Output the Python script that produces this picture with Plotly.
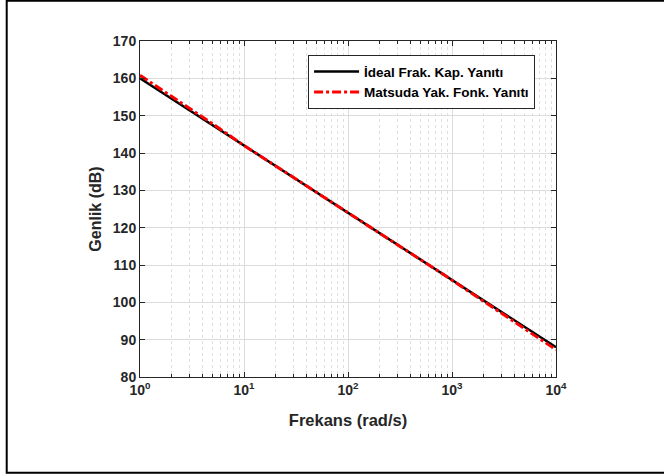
import plotly.graph_objects as go

# Frequencies (rad/s)
freq = [1, 2, 3, 5, 7, 10, 20, 30, 50, 70, 100, 200, 300, 500, 700,
        1000, 2000, 3000, 5000, 7000, 10000]
# Ideal fractional capacitor magnitude (dB)
ideal_db = [160.0, 154.58, 151.41, 147.42, 144.79, 142.0, 136.58, 133.41,
            129.42, 126.79, 124.0, 118.58, 115.41, 111.42, 108.79,
            106.0, 100.58, 97.41, 93.42, 90.79, 88.0]
# Matsuda approximation magnitude (dB)
matsuda_db = [160.8, 155.3, 152.0, 147.8, 145.0, 142.0, 136.6, 133.4,
              129.4, 126.8, 124.0, 118.6, 115.4, 111.4, 108.8,
              105.9, 100.2, 96.9, 92.8, 90.1, 87.3]

x_tickvals = [1, 10, 100, 1000, 10000]
x_ticktext = ["10<sup>0</sup>", "10<sup>1</sup>", "10<sup>2</sup>",
              "10<sup>3</sup>", "10<sup>4</sup>"]
x_minor = [m * 10 ** d for d in range(4) for m in range(2, 10)]
y_tickvals = [80, 90, 100, 110, 120, 130, 140, 150, 160, 170]

FONT = "Liberation Sans"
AX = "#262626"

fig = go.Figure()
fig.add_trace(go.Scatter(x=freq, y=ideal_db, mode="lines",
                         name="İdeal Frak. Kap. Yanıtı",
                         line=dict(color="black", width=2.5)))
fig.add_trace(go.Scatter(x=freq, y=matsuda_db, mode="lines",
                         name="Matsuda Yak. Fonk. Yanıtı",
                         line=dict(color="#ff0000", width=3, dash="9px,3px,3px,3px")))

fig.update_layout(
    width=664, height=475,
    margin=dict(l=140, r=108, t=41, b=98),
    paper_bgcolor="white", plot_bgcolor="white",
    font=dict(family=FONT, color=AX, size=13),
    showlegend=True,
    legend=dict(x=0.404, y=0.958, xanchor="left", yanchor="top",
                bgcolor="white", bordercolor=AX, borderwidth=1,
                font=dict(family=FONT, size=13.5, color="black", weight="bold"),
                tracegroupgap=0, itemwidth=45),
    xaxis=dict(type="log", range=[0, 4], tickmode="array",
               tickvals=x_tickvals, ticktext=x_ticktext,
               tickfont=dict(family=FONT, size=14, color=AX, weight="bold"),
               ticks="inside", ticklen=5, tickcolor=AX,
               showline=True, linecolor=AX, linewidth=1, mirror="allticks",
               showgrid=True, gridcolor="#dcdcdc", gridwidth=1,
               minor=dict(tickmode="array", tickvals=x_minor, ticks="inside",
                          ticklen=3, tickcolor=AX, showgrid=True,
                          gridcolor="#e0e0e0", griddash="dot", gridwidth=1),
               zeroline=False,
               title=dict(text="Frekans (rad/s)", standoff=17,
                          font=dict(family=FONT, size=16.5, color=AX, weight="bold"))),
    yaxis=dict(range=[80, 170], tickmode="array", tickvals=y_tickvals,
               tickfont=dict(family=FONT, size=14, color=AX, weight="bold"),
               ticks="inside", ticklen=5, tickcolor=AX,
               showline=True, linecolor=AX, linewidth=1, mirror="allticks",
               showgrid=True, gridcolor="#dcdcdc", gridwidth=1,
               zeroline=False,
               title=dict(text="Genlik (dB)", standoff=7,
                          font=dict(family=FONT, size=16, color=AX, weight="bold"))),
    shapes=[dict(type="rect", xref="paper", yref="paper",
                 x0=-0.3204, x1=1.35, y0=-0.2848, y1=1.12,
                 line=dict(color="black", width=2), fillcolor="rgba(0,0,0,0)",
                 layer="above")],
)

fig.write_html("out.html", config={"displayModeBar": False},
               post_script="document.body.style.margin='0';document.body.style.padding='0';")
